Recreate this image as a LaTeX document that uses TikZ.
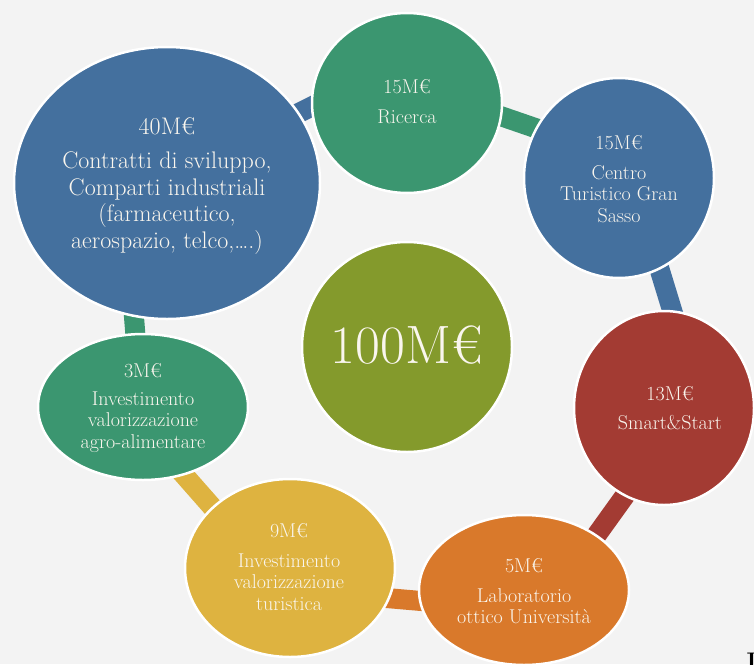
\documentclass[tikz,border=0pt]{standalone}
\usetikzlibrary{shapes.geometric}
\definecolor{cBlue}{RGB}{68,112,158}
\definecolor{cGreen}{RGB}{59,150,112}
\definecolor{cRed}{RGB}{163,59,51}
\definecolor{cOrange}{RGB}{217,121,43}
\definecolor{cYellow}{RGB}{222,179,64}
\definecolor{cOlive}{RGB}{132,154,44}
\definecolor{bgc}{RGB}{243,243,243}
\definecolor{txt}{RGB}{250,246,238}
\pgfdeclarelayer{bg}
\pgfdeclarelayer{links}
\pgfsetlayers{bg,links,main}
\begin{document}
\begin{tikzpicture}[x=1pt,y=-1pt,
  bubble/.style={ellipse, draw=white, line width=2.5pt, inner sep=0pt, outer sep=0pt},
  link/.style={line width=20pt, shorten <=-8pt, shorten >=-8pt},
  amt/.style={text=txt, font=\fontsize{20}{21.5}\selectfont, inner sep=0pt},
  desc/.style={text=txt, font=\fontsize{20}{21.5}\selectfont, align=center, inner sep=0pt},
  bigamt/.style={text=txt, font=\fontsize{24}{26.5}\selectfont, inner sep=0pt},
  bigdesc/.style={text=txt, font=\fontsize{24}{26.5}\selectfont, align=center, inner sep=0pt}
]
\useasboundingbox (0,0) rectangle (754,664);
\begin{pgfonlayer}{bg}
  \fill[bgc] (0,0) rectangle (754,664);
\end{pgfonlayer}

% bubbles
\node[bubble, fill=cBlue,   minimum width=306pt, minimum height=272pt] (b40) at (167,183) {};
\node[bubble, fill=cGreen,  minimum width=190pt, minimum height=180pt] (ric) at (407,103) {};
\node[bubble, fill=cBlue,   minimum width=190pt, minimum height=200pt] (cen) at (619,178) {};
\node[bubble, fill=cRed,    minimum width=180pt, minimum height=194pt] (red) at (664,408) {};
\node[bubble, fill=cOrange, minimum width=210pt, minimum height=150pt] (ora) at (524,590) {};
\node[bubble, fill=cYellow, minimum width=210pt, minimum height=178pt] (yel) at (290,568) {};
\node[bubble, fill=cGreen,  minimum width=210pt, minimum height=146pt] (g3)  at (143,407) {};
\node[bubble, fill=cOlive,  minimum width=210pt, minimum height=210pt] (mid) at (407,347) {};

% connectors
\begin{pgfonlayer}{links}
  \draw[link, cBlue]   (b40.28)   -- (ric.182);
  \draw[link, cGreen]  (ric.-8)   -- (cen.149);
  \draw[link, cBlue]   (cen.-66)  -- (red.85);
  \draw[link, cRed]    (red.-114) -- (ora.37);
  \draw[link, cOrange] (ora.186)  -- (yel.-17);
  \draw[link, cYellow] (yel.142)  -- (g3.-59);
  \draw[link, cGreen]  (g3.96)    -- (b40.-104);
\end{pgfonlayer}

% texts
\node[bigamt]  (t40a) at (167,126) {40M€};
\node[bigdesc] (t40b) at (167,203) {Contratti di sviluppo,\\Comparti industriali\\(farmaceutico,\\aerospazio, telco,….)};
\node[amt]  (trica) at (407,87)  {15M€};
\node[desc] (tricb) at (407,117) {Ricerca};
\node[amt]  (tcena) at (619,143) {15M€};
\node[desc] (tcenb) at (619,194) {Centro\\Turistico Gran\\Sasso};
\node[amt]  (treda) at (670,394) {13M€};
\node[desc] (tredb) at (670,423) {Smart\&Start};
\node[amt]  (toraa) at (524,566) {5M€};
\node[desc] (torab) at (524,606) {Laboratorio\\ottico Università};
\node[amt]  (tyela) at (289,531) {9M€};
\node[desc] (tyelb) at (289,582) {Investimento\\valorizzazione\\turistica};
\node[amt]  (tg3a)  at (143,371) {3M€};
\node[desc] (tg3b)  at (143,422) {Investimento\\valorizzazione\\agro-alimentare};
\node[text=txt, font=\fontsize{54}{60}\selectfont, inner sep=0pt] (tmid) at (407,345) {100M€};

% cut-off fragment at the lower right corner
\node[anchor=north west, inner sep=0pt, font=\bfseries\fontsize{24}{24}\selectfont] (frag) at (746.5,653) {I};
\end{tikzpicture}
\end{document}
